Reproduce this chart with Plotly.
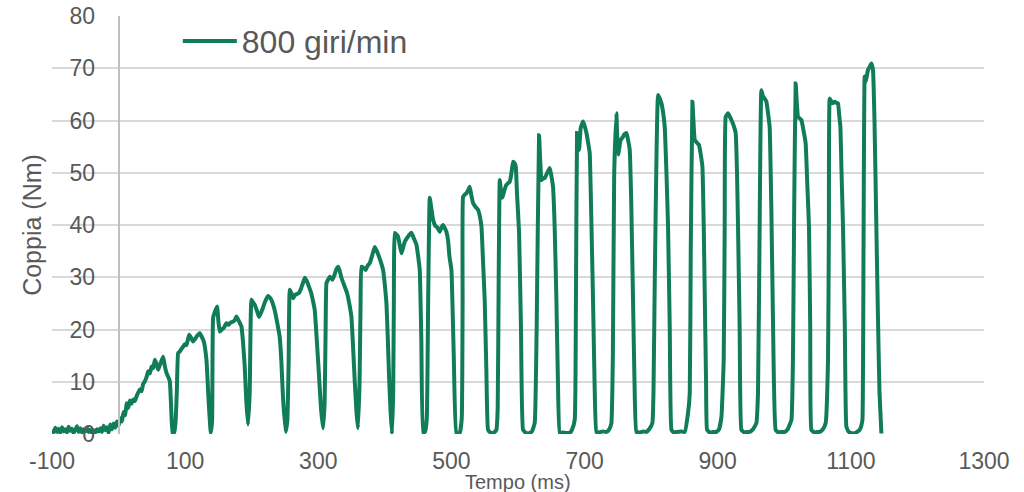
import plotly.graph_objects as go

# Baseline before the test start (ms, Nm)
base_t = [-100, -97.5, -95, -92.5, -90, -87.5, -85, -82.5, -80, -77.5, -75, -72.5, -70, -67.5,
          -65, -62.5, -60, -57.5, -55, -52.5, -50, -47.5, -45, -42.5, -40, -37.5, -35, -32.5,
          -30, -27.5, -25, -22.5, -20, -17.5, -15, -12.5, -10, -7.5, -5, -2.5]
base_c = [0.8, 0.3, 1.2, 0.4, 1.0, 0.2, 1.3, 0.5, 0.9, 0.3, 1.4, 0.6, 1.0, 0.2,
          0.8, 1.5, 0.4, 1.1, 0.3, 0.9, 0.5, 1.2, 0.4, 0.8, 0.2, 0.7, 0.3, 0.9,
          0.5, 1.1, 0.4, 1.6, 0.7, 1.3, 0.2, 1.8, 0.9, 2.0, 1.2, 2.4]

# Initial ramp and first pulses
ramp_t = [0, 2.5, 5, 7.5, 10, 12, 14.5, 17, 19.5, 22, 24.5, 27, 29.5, 32, 34.5, 37, 39.5, 42,
          44.5, 47, 49.5, 52, 54.5, 57, 59.5, 62, 64.5, 67, 69.5, 72, 75, 77, 79, 81, 83.5,
          85.5, 87.5, 89.5, 92, 94.5, 97, 99.5, 102, 106, 109, 112, 115, 118, 122, 125, 128,
          132, 135, 138.5, 140.5, 142, 145, 148, 150, 152, 155, 158, 162, 165, 168, 172, 175,
          177, 180, 184.5, 187, 189.5, 192, 194.5, 197, 199.6, 202, 204.6, 208, 211, 214, 217,
          220, 224.5, 228, 231, 234.5, 238, 242, 244.5, 247, 251, 253.5, 255.5, 257.2, 260,
          262.1, 265, 268, 271, 274, 277, 279.7, 283, 286.5, 289.7, 292, 294.7, 297.5, 300.7,
          304, 307.2, 309.5, 311, 312.3, 315, 317.2, 319.5, 321.3, 324.5, 327, 329.7, 332,
          334.8, 338.5, 343.2, 346.5, 349.8, 352.5, 354.8, 357.5, 359.7, 362, 363.5, 364.8,
          368, 371.3, 374, 377.3, 381, 384.8, 388, 391.3, 394.5, 397.3, 400, 402.4, 404.5,
          406.6, 408.7, 410.8, 412.5, 413.5, 414.9, 417.3, 419.8, 422.3, 424.9, 427.4, 429.9,
          434.9, 439.9, 443.7, 447.5, 450, 452.4, 454.8, 457.4, 460.5, 463, 465, 467.4, 470,
          472.4, 476, 479, 482.5, 485, 487.4, 490, 492.5, 495, 497, 500, 503.5, 507.5]
ramp_c = [1.6, 3.0, 2.4, 4.2, 3.6, 5.9, 5.0, 6.4, 5.8, 6.6, 6.3, 7.2, 7.9, 8.5, 8.2, 9.6, 10.1, 10.9,
          12.0, 11.6, 12.9, 12.6, 14.2, 13.4, 12.3, 13.2, 14.0, 14.8, 13.0, 11.7, 10.8, 10.1, 5.0, 0.0, 0.3,
          2.1, 8.0, 15.5, 15.8, 16.3, 16.7, 17.2, 17.0, 19.0, 18.4, 17.7, 18.2, 18.8, 19.3, 18.6, 17.7,
          14.2, 7.0, 0.2, 2.5, 22.2, 23.5, 24.4, 21.5, 19.6, 20.0, 20.3, 21.2, 20.9, 21.3, 21.5, 21.9,
          22.5, 21.8, 20.6, 17.5, 12.9, 6.0, 1.8, 8.0, 25.7, 25.2, 24.7, 23.5, 22.4, 23.2, 24.2,
          25.3, 26.4, 26.0, 25.2, 23.7, 21.5, 18.6, 14.0, 7.0, 0.4, 2.5, 14.0, 27.6, 26.8,
          26.0, 26.6, 26.8, 27.0, 27.8, 28.9, 29.9, 29.2, 28.0, 26.8, 25.5, 23.7, 18.5, 12.0,
          5.0, 1.1, 6.0, 20.0, 28.9, 29.6, 30.1, 29.8, 29.5, 30.5, 31.5, 32.0, 31.3,
          29.9, 28.6, 27.0, 25.0, 22.4, 16.0, 10.0, 4.0, 1.1, 10.0, 25.0, 32.0,
          31.8, 31.4, 32.2, 32.7, 34.2, 35.8, 35.0, 33.9, 32.7, 31.4, 28.5, 25.0, 18.0,
          10.0, 4.0, 0.0, 8.0, 25.0, 38.5, 38.2, 37.8, 36.2, 34.6, 35.7, 36.8,
          37.8, 38.5, 37.4, 36.2, 34.0, 31.4, 18.0, 0.2, 0.5, 3.0, 25.0, 45.2, 43.0,
          41.0, 39.8, 39.5, 38.7, 39.5, 40.0, 39.4, 38.7, 37.0, 34.0, 31.4, 15.0, 0.2]

# Later pulses
puls_t = [512.5, 515.5, 516.8, 517.5, 520, 522.6, 525, 527.5, 530, 532.5, 536, 540, 542.5, 545.1,
          547.5, 550, 552.5, 555, 558.5, 562.5, 565, 567.6, 569.5, 571, 572.6, 574.5, 576.6, 579.5,
          582.6, 585, 587.6, 590, 592.5, 594.5, 596.6, 598.5, 601.6, 604.5, 607.6, 612, 617.6, 621,
          625.1, 628, 631.6, 633.5, 635.2, 637.5, 640.2, 644, 647.7, 650, 652.6, 655, 657.7, 660,
          662.7, 667, 672, 677.7, 681, 685.2, 687, 688.7, 690.2, 691.7, 693, 694.2, 697.7, 700,
          702.8, 705, 707.7, 710, 712.7, 715, 717.8, 722, 727, 732.8, 737, 740.3, 742.5, 744.5,
          747.8, 749, 750.5, 752.5, 754, 757.8, 760, 762.9, 765, 767.8, 770, 772.8, 775, 777.9,
          783, 788, 792.9, 797, 801.9, 803.5, 805.5, 807.9, 810.4, 813, 815.5, 818, 820.4, 823,
          825.4, 828, 830.5, 834, 838, 845, 850.5, 855.4, 858, 859.5, 862, 863.5, 865.5, 868.5,
          871.9, 874.5, 877, 879, 880.5, 882.5, 884, 888, 893, 898, 902, 905.6, 909, 910.5, 912,
          915.5, 918, 920.6, 924, 927, 929, 930.5, 933, 935.6, 940, 944, 948, 953, 958.1, 960.5,
          963, 965.6, 968, 970.5, 973.1, 975.5, 978, 980.6, 983, 987, 991, 996, 1000.6, 1005,
          1010.7, 1013, 1015, 1017.1, 1019, 1020.6, 1023, 1025.7, 1029, 1032.1, 1034.5, 1037.1,
          1039, 1040.7, 1045, 1049, 1053.2, 1058, 1062.2, 1065.7, 1067, 1068.2, 1070, 1072.3,
          1075.7, 1078, 1080.7, 1082.5, 1084.3, 1086, 1088.2, 1091, 1093.3, 1097, 1100, 1103.2,
          1108, 1113.3, 1115.5, 1117.4, 1119, 1120.8, 1122.3, 1124, 1125.8, 1128, 1130.8, 1133.2,
          1135.5, 1138, 1140.7, 1143, 1145.9]
puls_c = [0.2, 3.0, 25.0, 45.4, 45.8, 46.1, 46.6, 47.3, 45.6, 44.2, 43.5, 42.9, 41.8, 39.7,
          33.0, 25.6, 12.0, 0.8, 0.3, 0.2, 0.4, 0.8, 5.0, 30.0, 48.6, 46.5, 45.2, 46.6,
          47.7, 48.0, 48.3, 49.8, 52.1, 51.9, 51.2, 46.0, 38.5, 20.0, 0.8, 0.2, 0.2, 0.5,
          2.1, 20.0, 57.2, 52.0, 48.6, 48.9, 49.0, 50.0, 50.9, 49.5, 47.3, 40.0, 25.6, 10.0,
          0.2, 0.3, 0.2, 0.2, 0.8, 2.7, 25.0, 57.6, 55.0, 54.4, 56.5, 58.6, 59.8, 59.0,
          57.6, 56.0, 53.8, 42.0, 25.6, 10.0, 0.4, 0.3, 0.5, 0.4, 0.9, 2.1, 15.0, 50.0,
          61.4, 57.0, 53.5, 55.0, 56.2, 56.9, 57.4, 57.6, 56.5, 54.4, 45.0, 25.6, 10.0, 0.4,
          0.3, 0.5, 0.4, 0.9, 2.1, 8.0, 30.0, 52.0, 64.9, 64.2, 63.3, 61.5, 58.8, 50.0,
          39.7, 20.0, 0.8, 0.3, 0.4, 0.5, 0.4, 4.0, 7.8, 35.0, 63.6, 60.0, 56.3, 55.8,
          55.3, 53.5, 51.2, 40.0, 27.0, 10.0, 0.8, 0.3, 0.4, 0.4, 0.9, 3.3, 14.2, 40.0, 60.7,
          61.4, 60.8, 60.1, 59.0, 57.6, 50.0, 39.7, 20.0, 0.8, 0.3, 0.4, 0.4, 0.9, 2.1, 7.8,
          40.0, 65.8, 64.6, 64.2, 63.6, 61.5, 58.8, 42.9, 22.0, 0.8, 0.3, 0.4, 0.4, 0.9,
          2.7, 14.2, 45.0, 67.1, 63.0, 60.7, 60.4, 60.1, 58.0, 55.6, 48.0, 39.7,
          20.0, 0.8, 0.3, 0.4, 0.4, 0.9, 2.1, 14.2, 40.0, 64.2, 63.8, 63.3,
          63.6, 63.4, 63.3, 61.0, 58.8, 50.0, 39.7, 20.0, 1.4, 0.4, 0.2, 0.1,
          0.3, 0.8, 1.5, 2.7, 35.0, 68.4, 67.4, 68.5, 69.7, 70.2, 70.9, 69.7,
          60.0, 42.0, 22.4, 8.0, 0.1]

time_ms = base_t + ramp_t + puls_t
torque_nm = base_c + ramp_c + puls_c

x_ticks = [-100, 100, 300, 500, 700, 900, 1100, 1300]
y_ticks = [0, 10, 20, 30, 40, 50, 60, 70, 80]

GREEN = "#117D56"
TXT = "#595959"
FONT = "Liberation Sans, Arial, sans-serif"

fig = go.Figure()
fig.add_trace(go.Scatter(
    x=time_ms, y=torque_nm, mode="lines", name="800 giri/min",
    line=dict(color=GREEN, width=4, shape="spline", smoothing=0.35),
))

fig.update_layout(
    width=1024, height=492,
    margin=dict(l=52, r=40, t=16, b=58, autoexpand=False),
    paper_bgcolor="white", plot_bgcolor="white",
    font=dict(family=FONT, color=TXT),
    showlegend=True,
    legend=dict(
        x=0.135, y=0.94, xanchor="left", yanchor="middle",
        font=dict(size=32, color=TXT, family=FONT),
        bgcolor="rgba(0,0,0,0)", itemwidth=54,
    ),
    xaxis=dict(
        range=[-100, 1300], tickvals=x_ticks, ticktext=[str(v) for v in x_ticks],
        showgrid=False, zeroline=False, showline=False, automargin=False,
        ticks="outside", ticklen=6, tickcolor="rgba(0,0,0,0)",
        tickfont=dict(size=23, color=TXT, family=FONT),
    ),
    yaxis=dict(
        range=[0, 80], tickvals=y_ticks, automargin=False,
        showgrid=True, gridcolor="#D9D9D9", gridwidth=1.5,
        zeroline=False, showline=True, linecolor="#BFBFBF", linewidth=2,
        anchor="free", position=0.0715,
        ticks="outside", ticklen=18, tickcolor="rgba(0,0,0,0)",
        tickfont=dict(size=23, color=TXT, family=FONT),
        title=dict(text="Coppia (Nm)", font=dict(size=25, color=TXT, family=FONT), standoff=20),
    ),
    annotations=[dict(
        text="Tempo (ms)", xref="paper", yref="paper", x=0.5, y=-0.1148,
        xanchor="center", yanchor="middle", showarrow=False,
        font=dict(size=20, color=TXT, family=FONT),
    )],
)

fig.write_html("out.html")
